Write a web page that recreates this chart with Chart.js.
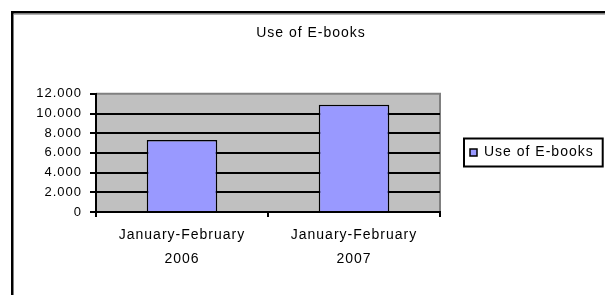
<!DOCTYPE html>
<html>
<head>
<meta charset="utf-8">
<script src="https://cdn.jsdelivr.net/npm/chart.js@4/dist/chart.umd.min.js"></script>
<style>
  html, body { margin: 0; padding: 0; background: #fff; overflow: hidden; }
  #wrap { position: absolute; left: 0; top: 0; width: 620px; height: 310px; }
</style>
</head>
<body>
<div id="wrap"><canvas id="ebookChart"></canvas></div>
<script>
// data
const categories = [['January-February', '2006'], ['January-February', '2007']];
const ebookUse = [7300, 10900];
const seriesName = 'Use of E-books';
const yTicks = [0, 2000, 4000, 6000, 8000, 10000, 12000];

const FAMILY = '"Liberation Sans", Arial, sans-serif';
const FONT = { family: FAMILY, size: 14 };
const TICK_FONT = { family: FAMILY, size: 13 };
const SPACING = 1;

// thousands with a dot, like the original sheet
function fmt(v) {
  return String(v).replace(/\B(?=(\d{3})+(?!\d))/g, '.');
}

// Excel-ish wide text, plot background, outer frame, legend box
const sheetLook = {
  id: 'sheetLook',
  beforeLayout(chart) { chart.ctx.letterSpacing = SPACING + 'px'; },
  beforeDraw(chart) {
    const { ctx, chartArea: a } = chart;
    ctx.letterSpacing = SPACING + 'px';
    ctx.save();
    ctx.fillStyle = '#c0c0c0';
    ctx.fillRect(a.left, a.top, a.right - a.left, a.bottom - a.top);
    ctx.strokeStyle = '#808080';
    ctx.lineWidth = 2;
    ctx.beginPath();
    ctx.moveTo(a.left, a.top);
    ctx.lineTo(a.right, a.top);
    ctx.lineTo(a.right, a.bottom);
    ctx.stroke();
    ctx.restore();
  },
  afterDraw(chart) {
    const { ctx } = chart;
    ctx.save();
    // outer chart frame (runs off the right / bottom edge)
    ctx.strokeStyle = '#000';
    ctx.lineWidth = 2.5;
    ctx.strokeRect(12.25, 12.25, 800, 500);
    ctx.strokeStyle = '#b0b0b0';
    ctx.lineWidth = 1;
    ctx.beginPath();
    ctx.moveTo(14, 14.5); ctx.lineTo(620, 14.5);
    ctx.stroke();
    // legend frame, sized from the drawn text (measureText already counts the spacing)
    const hb = chart.legend.legendHitBoxes[0];
    if (hb) {
      ctx.font = FONT.size + 'px ' + FAMILY;
      ctx.letterSpacing = SPACING + 'px';
      const tw = ctx.measureText(seriesName).width;
      const w = 6 + 7 + FONT.size / 2 + tw + 9;
      ctx.strokeStyle = '#000';
      ctx.lineWidth = 2;
      ctx.strokeRect(hb.left - 6, hb.top - 7, w, hb.height + 14);
    }
    ctx.restore();
  }
};

new Chart(document.getElementById('ebookChart'), {
  type: 'bar',
  data: {
    labels: categories,
    datasets: [{
      label: seriesName,
      data: ebookUse,
      backgroundColor: '#9999ff',
      borderColor: '#000',
      borderWidth: 1.5,
      categoryPercentage: 1,
      barPercentage: 0.41
    }]
  },
  options: {
    responsive: true,
    maintainAspectRatio: false,
    animation: false,
    devicePixelRatio: 1,
    layout: { padding: { top: 25, left: 22, right: 20, bottom: 30 } },
    plugins: {
      title: {
        display: true,
        text: 'Use of E-books',
        color: '#000',
        font: { ...FONT, weight: 'normal' },
        padding: { top: 0, bottom: 52 }
      },
      legend: {
        position: 'right',
        maxWidth: 160,
        labels: {
          color: '#000',
          font: FONT,
          boxWidth: 7,
          boxHeight: 7,
          padding: 30
        }
      },
      tooltip: { enabled: false }
    },
    scales: {
      x: {
        offset: true,
        border: { color: '#000', width: 2 },
        grid: { display: true, drawOnChartArea: false, offset: true, color: '#000', lineWidth: 2, tickLength: 5 },
        ticks: { color: '#000', font: { ...FONT, lineHeight: 1.7 }, maxRotation: 0, padding: 6 },
        afterFit(s) { s.height = 68; }
      },
      y: {
        min: 0,
        max: 12000,
        border: { color: '#000', width: 2 },
        grid: {
          color: c => (c.tick && c.tick.value === 12000 ? 'rgba(0,0,0,0)' : '#000'),
          tickColor: '#000',
          lineWidth: 2,
          tickLength: 6
        },
        afterBuildTicks(s) { s.ticks = yTicks.map(v => ({ value: v })); },
        ticks: { color: '#000', font: TICK_FONT, padding: 8, callback: v => fmt(v) },
        afterFit(s) { s.width = 74; }
      }
    }
  },
  plugins: [sheetLook]
});
</script>
</body>
</html>
